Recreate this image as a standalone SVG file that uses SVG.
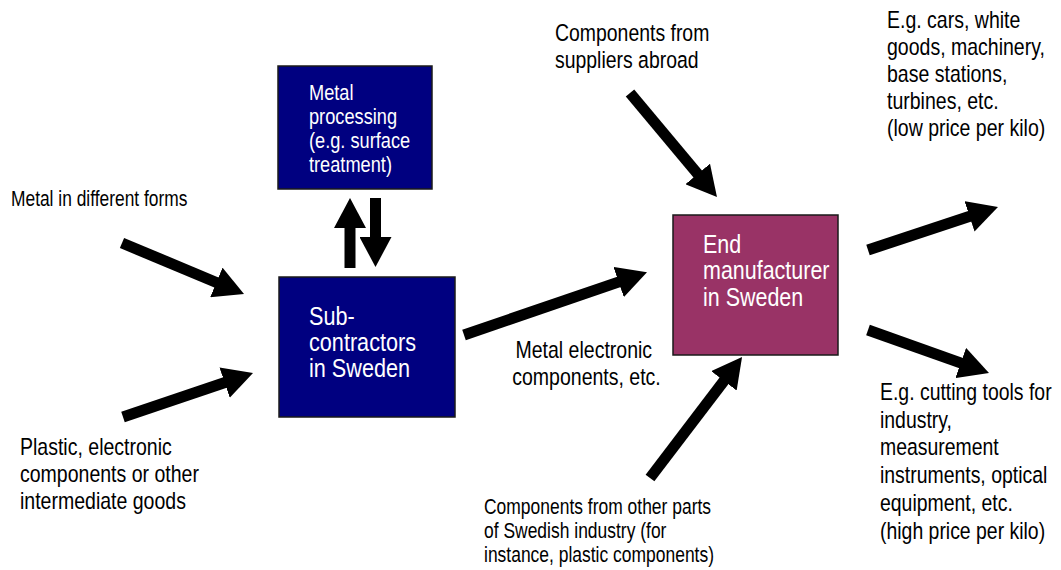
<svg xmlns="http://www.w3.org/2000/svg" width="1061" height="570" viewBox="0 0 1061 570">
  <style>
    .lbl { font-family: "Liberation Sans", Arial, sans-serif; fill: #000; }
    .box-txt { font-family: "Liberation Sans", Arial, sans-serif; fill: #fff; }
    .box { stroke: #1a1a1a; stroke-width: 1.5; }
    .flow { fill: none; stroke: #000; stroke-width: 11; stroke-linecap: butt; marker-end: url(#head); }
  </style>
  <defs>
    <marker id="head" markerUnits="userSpaceOnUse" viewBox="0 0 30 32" markerWidth="30" markerHeight="32" refX="2" refY="16" orient="auto">
      <path d="M0,0 L30,16 L0,32 Z" fill="#000"/>
    </marker>
  </defs>

  <rect width="1061" height="570" fill="#fff"/>

  <!-- connectors -->
  <g id="connectors">
    <path class="flow" d="M122,243 L218.2,283.2"/>
    <path class="flow" d="M123,417 L226.5,382"/>
    <path class="flow" d="M350,268 L350,226"/>
    <path class="flow" d="M375.5,198 L375.5,239"/>
    <path class="flow" d="M464,335 L620.5,281.4"/>
    <path class="flow" d="M630,93 L699,175.5"/>
    <path class="flow" d="M650,478 L725.1,379.3"/>
    <path class="flow" d="M868,250 L971.4,215.8"/>
    <path class="flow" d="M868,330 L962.6,363.6"/>
  </g>

  <!-- nodes (text is set condensed: horizontal scale 0.82) -->
  <g id="metal-processing">
    <rect class="box" x="278" y="66" width="154" height="123" fill="#000080"/>
    <text class="box-txt" font-size="22.2" transform="translate(309 0) scale(0.82 1)">
      <tspan x="0" y="100">Metal</tspan>
      <tspan x="0" y="124">processing</tspan>
      <tspan x="0" y="148">(e.g. surface</tspan>
      <tspan x="0" y="172">treatment)</tspan>
    </text>
  </g>

  <g id="subcontractors">
    <rect class="box" x="279" y="277" width="176" height="140" fill="#000080"/>
    <text class="box-txt" font-size="26.4" transform="translate(309 0) scale(0.82 1)">
      <tspan x="0" y="325">Sub-</tspan>
      <tspan x="0" y="351">contractors</tspan>
      <tspan x="0" y="377">in Sweden</tspan>
    </text>
  </g>

  <g id="end-manufacturer">
    <rect class="box" x="673" y="215" width="165" height="140" fill="#993366"/>
    <text class="box-txt" font-size="26.2" transform="translate(703 0) scale(0.82 1)">
      <tspan x="0" y="253">End</tspan>
      <tspan x="0" y="279.5">manufacturer</tspan>
      <tspan x="0" y="306">in Sweden</tspan>
    </text>
  </g>

  <!-- labels -->
  <g id="label-metal-forms">
    <text class="lbl" font-size="21.2" transform="translate(11 0) scale(0.82 1)" x="0" y="206">Metal in different forms</text>
  </g>

  <g id="label-plastic">
    <text class="lbl" font-size="23.8" transform="translate(20 0) scale(0.82 1)">
      <tspan x="0" y="455">Plastic, electronic</tspan>
      <tspan x="0" y="482">components or other</tspan>
      <tspan x="0" y="509">intermediate goods</tspan>
    </text>
  </g>

  <g id="label-suppliers-abroad">
    <text class="lbl" font-size="23.7" transform="translate(555 0) scale(0.82 1)">
      <tspan x="0" y="41">Components from</tspan>
      <tspan x="0" y="68">suppliers abroad</tspan>
    </text>
  </g>

  <g id="label-metal-electronic">
    <text class="lbl" font-size="23.8" text-anchor="middle" transform="translate(586.5 0) scale(0.82 1)">
      <tspan x="0" y="358">Metal electronic</tspan>
      <tspan x="0" y="385">components, etc.</tspan>
    </text>
  </g>

  <g id="label-swedish-industry">
    <text class="lbl" font-size="21.3" transform="translate(484 0) scale(0.82 1)">
      <tspan x="0" y="514">Components from other parts</tspan>
      <tspan x="0" y="538">of Swedish industry (for</tspan>
      <tspan x="0" y="562">instance, plastic components)</tspan>
    </text>
  </g>

  <g id="label-low-price">
    <text class="lbl" font-size="23.8" transform="translate(887 0) scale(0.82 1)">
      <tspan x="0" y="28">E.g. cars, white</tspan>
      <tspan x="0" y="55">goods, machinery,</tspan>
      <tspan x="0" y="82">base stations,</tspan>
      <tspan x="0" y="109">turbines, etc.</tspan>
      <tspan x="0" y="136">(low price per kilo)</tspan>
    </text>
  </g>

  <g id="label-high-price">
    <text class="lbl" font-size="23.7" transform="translate(880 0) scale(0.82 1)">
      <tspan x="0" y="400">E.g. cutting tools for</tspan>
      <tspan x="0" y="428">industry,</tspan>
      <tspan x="0" y="455">measurement</tspan>
      <tspan x="0" y="483">instruments, optical</tspan>
      <tspan x="0" y="511">equipment, etc.</tspan>
      <tspan x="0" y="539">(high price per kilo)</tspan>
    </text>
  </g>
</svg>
